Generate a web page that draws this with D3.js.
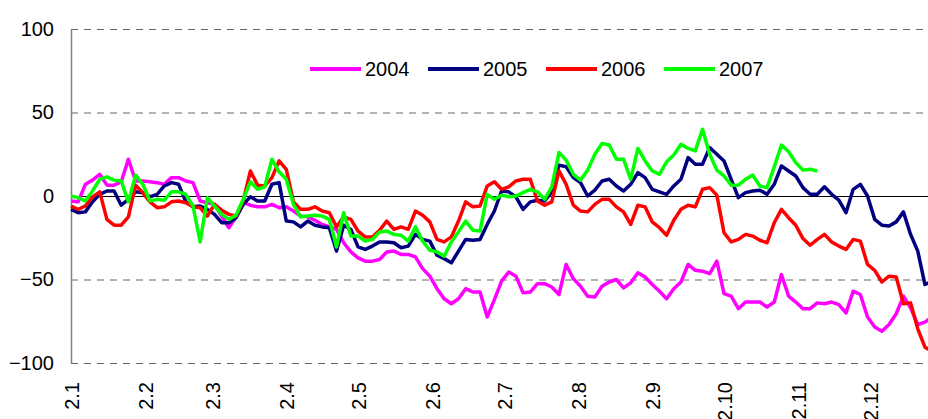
<!DOCTYPE html>
<html>
<head>
<meta charset="utf-8">
<script src="https://cdn.jsdelivr.net/npm/d3@7"></script>
<style>
  body { margin: 0; background: #fff; }
  svg { display: block; font-family: "Liberation Sans", Arial, sans-serif; }
</style>
</head>
<body>
<svg width="928" height="419"></svg>

<script>

  // day of year for each sample (every 3 days)
  var days = [0, 3, 6, 9, 12, 15, 18, 21, 24, 27, 30, 33, 36, 39, 42, 45, 48, 51, 54, 57,
    60, 63, 66, 69, 72, 75, 78, 81, 84, 87, 90, 93, 96, 99, 102, 105, 108, 111, 114, 117,
    120, 123, 126, 129, 132, 135, 138, 141, 144, 147, 150, 153, 156, 159, 162, 165, 168, 171, 174, 177,
    180, 183, 186, 189, 192, 195, 198, 201, 204, 207, 210, 213, 216, 219, 222, 225, 228, 231, 234, 237,
    240, 243, 246, 249, 252, 255, 258, 261, 264, 267, 270, 273, 276, 279, 282, 285, 288, 291, 294, 297,
    300, 303, 306, 309, 312, 315, 318, 321, 324, 327, 330, 333, 336, 339, 342, 345, 348, 351, 354, 357, 360];

  var y2004 = [-3, -3.5, 7, 9.5, 13, 6.5, 6.5, 8.5, 22, 9, 9, 8.5, 8, 7, 11, 11, 9, 8, -3, -4,
    -5, -12, -19, -12.5, -4, -5.5, -6.5, -6.5, -5, -7, -6.5, -9, -12, -12.5, -14.5, -17, -18.5, -20, -28, -33.5,
    -37, -39, -39, -38, -33.5, -33, -35, -35, -36.5, -43.5, -48, -55.5, -61.5, -64.5, -61.5, -55.5, -57.5, -57.5, -72.5, -62,
    -51, -45.5, -48, -58, -57.5, -52.5, -52.5, -54.5, -59, -41, -49.5, -54, -60, -60.5, -54, -51.5, -50, -55, -52, -46,
    -48.5, -53, -57, -61.5, -55.5, -51.5, -41, -44.5, -45, -46.5, -39, -58.5, -60, -67.5, -63.5, -63.5, -63.5, -66.5, -63.5, -47,
    -60, -63.5, -67.5, -67.5, -64, -64.5, -63.5, -65, -70, -57, -59, -72.5, -78.5, -81, -77, -70.5, -60, -67, -77, -75.5, -72.5];

  var y2005 = [-8, -10, -9.5, -3.5, 1, 3, 3, -5.5, -2, 2.5, 2, -0.5, 1, 6, 8, 7, -3.5, -6.5, -6, -8,
    -11, -16, -16, -13, -5, -0.5, -3, -3, 7, 8, -15, -15.5, -18.5, -15, -17.5, -18.5, -19, -33, -17.5, -20,
    -30.5, -32, -30, -27.5, -27.5, -28, -31, -30, -23, -26, -27, -35.5, -37.5, -40, -33, -26, -26.5, -26, -17, -9,
    3, 2.5, -0.5, -8, -3.5, -2.5, -3, 2.5, 18.5, 17.5, 11, 8, 0, 3.5, 9, 10, 6, 3, 7, 14,
    11, 4, 2.5, 1, 6, 10, 23, 19, 19, 29, 25, 21, 10, -1, 2, 3, 3.5, 1, 7, 18,
    15, 12, 5, 1, 1, 5.5, 1, -2.5, -10, 4, 7, 0, -14, -17.5, -18, -15.5, -9.5, -23, -33, -53, -51];

  var y2006 = [-6, -8, -6, -0.5, 2.5, -14, -17.5, -17.5, -12.5, 6.5, 2, -3.5, -7, -6.5, -3.5, -3, -4, -6.5, -7, -12,
    -5, -8.5, -11, -12, -3, 15, 6.5, 6, 11, 21, 16, -3.5, -8, -8, -6.5, -9, -10, -18.5, -12.5, -14,
    -21, -24.5, -24.5, -20.5, -15, -20, -18.5, -20, -9, -11.5, -15.5, -26, -27.5, -24.5, -15, -3.5, -6.5, -6, 6, 8.5,
    4, 5.5, 9, 10, 10, -3, -5.5, -3.5, 15, 7, -5.5, -9, -9.5, -5, -2, -2, -6.5, -9.5, -17, -5.5,
    -6.5, -15.5, -19, -23.5, -14.5, -8, -5.5, -6.5, 4, 5, 0.5, -22, -27.5, -26, -23, -24, -26.5, -28, -16, -8,
    -13, -17.5, -25.5, -29.5, -26, -23, -27.5, -30, -32, -26, -27, -41, -44.5, -51.5, -48, -48.5, -64.5, -64, -79.5, -90.5, -93];

  var y2007 = [0, -1, -3, 3, 10, 11.5, 9.5, 9, -3.5, 12.5, 7, -3, -2, -2.5, 2.5, 2.5, 1, -6, -27.5, -1,
    -6, -11, -14, -11.5, -2, 8.5, 4, 5.5, 22, 14.5, 10, -5, -12.5, -12, -11.5, -12, -14, -30.5, -10, -24,
    -24, -27, -26, -21.5, -21, -23, -23.5, -27, -18.5, -27, -32.5, -33.5, -36, -27.5, -21.5, -15, -20.5, -21, 1, -2,
    0.5, -0.5, 0, 2, 4, 2.5, -2, 5.5, 26, 21.5, 13, 9.5, 15.5, 25, 31.5, 30.5, 22, 22, 10, 28.5,
    21, 15, 13, 20.5, 24.5, 31, 28.5, 27, 40, 25, 15.5, 12, 6.5, 6.5, 10, 12.5, 6, 5, 17.5, 30.5,
    26.5, 20, 15.5, 16, 15, null, null, null, null, null, null, null, null, null, null, null, null, null, null, null, null];

  var seriesNames = ["2004", "2005", "2006", "2007"];
  var seriesColors = ["#ff00ff", "#000080", "#ff0000", "#00ff00"];
  var seriesValues = [y2004, y2005, y2006, y2007];

  // month starts and their labels
  var monthDays = [0, 31, 59, 90, 120, 151, 181, 212, 243, 273, 304, 334];
  var monthLabels = ["2.1", "2.2", "2.3", "2.4", "2.5", "2.6", "2.7", "2.8", "2.9", "2.10", "2.11", "2.12"];
  var yTicks = [-100, -50, 0, 50, 100];

  var svg = d3.select("svg");

  // plot box (avoid "top" which is a window property)
  var plotLeft = 71, plotTop = 29, plotBottom = 363;

  var x = d3.scaleLinear().domain([0, 365]).range([plotLeft, plotLeft + 365 * 2.392]);
  var y = d3.scaleLinear().domain([-100, 100]).range([plotBottom, plotTop]);

  // grid lines
  svg.append("g").selectAll("line")
    .data(yTicks)
    .enter().append("line")
    .attr("x1", plotLeft)
    .attr("x2", 928)
    .attr("y1", function(d){ return y(d) + 0.5; })
    .attr("y2", function(d){ return y(d) + 0.5; })
    .attr("stroke", function(d){ return d == 0 ? "#000" : "#666"; })
    .attr("stroke-width", 1)
    .attr("stroke-dasharray", function(d){ return d == 0 ? null : "7,6"; });

  // y axis
  var yAxis = svg.append("g")
    .attr("transform", "translate(" + plotLeft + ",0)")
    .call(d3.axisLeft(y).tickValues(yTicks).tickSize(0).tickPadding(17).tickFormat(d3.format("d")));
  yAxis.select(".domain").remove();
  yAxis.selectAll("text")
    .attr("font-size", 20)
    .attr("fill", "#000")
    .attr("font-family", "Liberation Sans, Arial, sans-serif");

  svg.append("line")
    .attr("x1", plotLeft + 0.5).attr("x2", plotLeft + 0.5)
    .attr("y1", plotTop).attr("y2", plotBottom + 1)
    .attr("stroke", "#808080")
    .attr("stroke-width", 1.5);

  // x axis
  var xAxis = svg.append("g")
    .attr("transform", "translate(0," + plotBottom + ")")
    .call(d3.axisBottom(x).tickValues(monthDays).tickSize(0)
      .tickFormat(function(d, i){ return monthLabels[i]; }));
  xAxis.select(".domain").remove();
  xAxis.selectAll("text")
    .attr("font-size", 20)
    .attr("fill", "#000")
    .attr("font-family", "Liberation Sans, Arial, sans-serif")
    .attr("text-anchor", "end")
    .attr("transform", "rotate(-90)")
    .attr("x", -19)
    .attr("y", 0)
    .attr("dy", "0.36em");

  // lines
  var line = d3.line()
    .defined(function(d){ return d.v != null; })
    .x(function(d){ return x(d.day); })
    .y(function(d){ return y(d.v); });

  seriesValues.forEach(function(vals, s){
    var pts = days.map(function(day, i){ return {day: day, v: vals[i]}; });
    svg.append("path")
      .datum(pts)
      .attr("fill", "none")
      .attr("stroke", seriesColors[s])
      .attr("stroke-width", 3.5)
      .attr("stroke-linejoin", "round")
      .attr("d", line);
  });

  // legend
  var legend = svg.append("g").selectAll("g")
    .data(seriesNames)
    .enter().append("g")
    .attr("transform", function(d, i){ return "translate(" + (310 + i * 118) + ",69)"; });

  legend.append("line")
    .attr("x1", 0).attr("x2", 51)
    .attr("stroke", function(d, i){ return seriesColors[i]; })
    .attr("stroke-width", 4);

  legend.append("text")
    .attr("x", 55)
    .attr("dy", "0.36em")
    .attr("font-size", 20)
    .text(function(d){ return d; });

</script>
</body>
</html>
